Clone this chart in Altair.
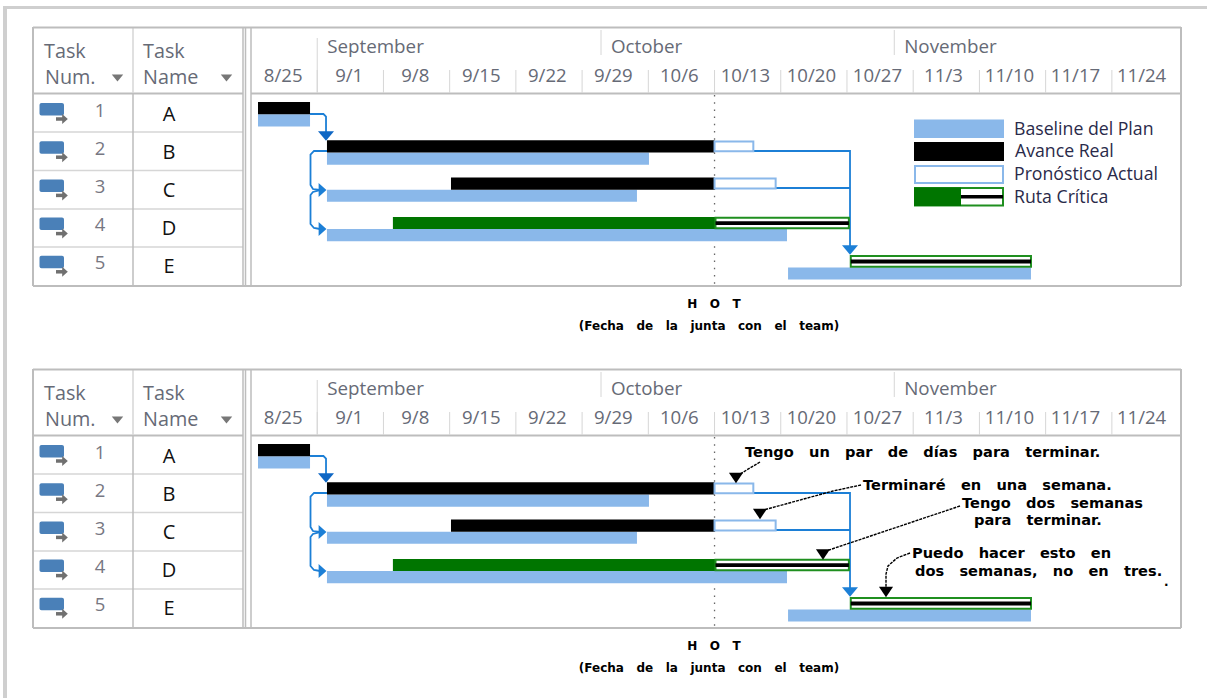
import altair as alt
import pandas as pd

# ---- schedule values, in days counted from the 8/25 column ----
tasks = ["A", "B", "C", "D", "E"]
task_numbers = ["1", "2", "3", "4", "5"]
row_tops = [0.0, 1.0, 1.97, 3.0, 4.0]

baseline_start = [0.74, 8.03, 8.03, 8.03, 56.77]
baseline_end = [6.24, 42.07, 40.8, 56.66, 82.45]

actual_tasks = ["A", "B", "C"]
actual_start = [0.74, 8.03, 21.14]
actual_end = [6.24, 49.0, 49.0]

forecast_tasks = ["B", "C"]
forecast_start = [49.0, 49.0]
forecast_end = [53.1, 55.46]

critical_done_tasks = ["D"]
critical_done_start = [15.0]
critical_done_end = [49.1]

critical_open_tasks = ["D", "E"]
critical_open_start = [49.1, 63.4]
critical_open_end = [63.2, 82.45]

status_day = 49.0

week_labels = ["8/25", "9/1", "9/8", "9/15", "9/22", "9/29", "10/6", "10/13",
               "10/20", "10/27", "11/3", "11/10", "11/17", "11/24"]
month_labels = ["September", "October", "November"]
month_start_days = [7, 37, 68]

# Dependency links as (day, row) paths
links = {
    "a_b": [(6.24, 0.313), (7.66, 0.313), (7.93, 0.379), (7.93, 0.81)],
    "b_c": [(8.03, 1.279), (6.66, 1.279), (6.29, 1.371), (6.29, 2.167), (6.55, 2.272), (7.29, 2.298)],
    "b_d": [(7.29, 2.298), (6.55, 2.35), (6.29, 2.428), (6.29, 3.185), (6.66, 3.29), (7.29, 3.316)],
    "b_e": [(53.1, 1.279), (63.32, 1.279), (63.32, 3.786)],
    "c_e": [(55.46, 2.245), (63.32, 2.245)],
}
link_heads_down = [(7.93, 0.888, "#0F67C4"), (63.32, 3.864, "#1C7FD6")]
link_heads_right = [(7.56, 2.298), (7.56, 3.316)]

legend_labels = ["Baseline del Plan", "Avance Real", "Pronóstico Actual", "Ruta Crítica"]


def spaced(text, gap):
    """Widen the word gaps; consecutive plain spaces would collapse when drawn."""
    return text.replace(" ", "\u00a0" * gap)


notes = [
    ("Tengo un par de días para terminar.", 745, 111),
    ("Terminaré en una semana.", 863, 144),
    ("Tengo dos semanas", 962, 162),
    ("para terminar.", 974, 179),
    ("Puedo hacer esto en", 912, 212),
    ("dos semanas, no en tres.", 915, 230),
]
note_leaders = [
    [(760, 120), (740, 132)],
    [(861, 143), (833, 149), (760, 169)],
    [(960, 164), (823, 210)],
    [(910, 211), (897, 216), (888, 224), (886, 232), (886, 248)],
]
note_heads = [(736, 136), (760, 172), (823, 212.5), (886, 250)]

# ---- drawing constants ----
WIDTH = 1207
BLUE = "#8AB8EA"
GREEN = "#007500"
GREEN_EDGE = "#1F8F1F"
LINK = "#1C7FD6"
LINE = "#BDBDBD"
LIGHT = "#D6D6D6"
HEAD = "#666A76"
FONT = "Open Sans"
PX_PER_DAY = 9.46
ORIGIN_X = 251.0
PX_PER_ROW = 38.3
ORIGIN_Y = 102.0
BAR = 12.2 / PX_PER_ROW

DOWN = "M-1,-0.6L1,-0.6L0,0.6Z"
RIGHT = "M-0.56,-1L0.56,0L-0.56,1Z"
NOTE_HEAD = "M-1,-0.75L1,-0.75L0,0.75Z"


def df_bars(names, start, end, lo, hi):
    return pd.DataFrame({
        "start": start,
        "end": end,
        "top": [row_tops[tasks.index(n)] + lo for n in names],
        "bottom": [row_tops[tasks.index(n)] + hi for n in names],
    })


def panel(height, annotated):
    x_scale = alt.Scale(domain=[-ORIGIN_X / PX_PER_DAY, (WIDTH - ORIGIN_X) / PX_PER_DAY],
                        range=[0, WIDTH], nice=False, zero=False)
    y_scale = alt.Scale(domain=[-ORIGIN_Y / PX_PER_ROW, (height - ORIGIN_Y) / PX_PER_ROW],
                        range=[0, height], nice=False, zero=False)
    X = lambda f: alt.X(f, type="quantitative", scale=x_scale, axis=None)
    Y = lambda f: alt.Y(f, type="quantitative", scale=y_scale, axis=None)
    PX = lambda f: alt.X(f, type="quantitative", scale=None, axis=None)
    PY = lambda f: alt.Y(f, type="quantitative", scale=None, axis=None)

    def segs(rows, color, width=1.5, **kw):
        d = pd.DataFrame(rows, columns=["x", "y", "x2", "y2"])
        return alt.Chart(d).mark_rule(color=color, strokeWidth=width, **kw).encode(
            x=PX("x"), y=PY("y"), x2="x2:Q", y2="y2:Q")

    def rects(rows, fill, **kw):
        d = pd.DataFrame(rows, columns=["x", "y", "x2", "y2"])
        return alt.Chart(d).mark_rect(fill=fill, **kw).encode(
            x=PX("x"), y=PY("y"), x2="x2:Q", y2="y2:Q")

    def texts(rows, size, color, align="left", font=FONT, weight="normal"):
        d = pd.DataFrame(rows, columns=["t", "x", "y"])
        return alt.Chart(d).mark_text(fontSize=size, color=color, align=align, baseline="middle",
                                      font=font, fontWeight=weight).encode(
            x=PX("x"), y=PY("y"), text="t:N")

    def symbols(rows, shape, size, color):
        d = pd.DataFrame(rows, columns=["x", "y"])
        return alt.Chart(d).mark_point(shape=shape, size=size, fill=color, filled=True,
                                       opacity=1, strokeWidth=0).encode(x=X("x"), y=Y("y"))

    layers = []

    # window edge
    layers.append(rects([(3, 0 if annotated else 6, 7, height)], "#CFCFCF"))
    if not annotated:
        layers.append(rects([(3, 6, WIDTH, 9)], "#CFCFCF"))

    # task table frame
    row_lines = [132, 170.5, 209, 247]
    layers.append(segs([(33, y, 243, y, ) for y in row_lines], LIGHT, 1.5))
    layers.append(segs([(251, 93.5, 1181, 93.5), (33, 93.5, 243, 93.5)], LINE, 2))
    layers.append(segs([(133, 27, 133, 93)], LIGHT, 1.5))
    layers.append(segs([(133, 94, 133, 286)], LINE, 1.5))
    layers.append(segs([(243, 27, 243, 286), (245.5, 27, 245.5, 286), (251, 27, 251, 286)], LINE, 1.5))
    layers.append(segs([(33, 27.5, 1181, 27.5), (33, 286, 1181, 286),
                        (33, 27, 33, 286), (1181, 27, 1181, 286)], LINE, 2))

    # time scale header
    weeks = pd.DataFrame({"day": [7 * i + 7 for i in range(13)]})
    layers.append(alt.Chart(weeks).mark_rule(color=LIGHT, strokeWidth=1).encode(
        x=X("day"), y=alt.value(70), y2=alt.value(93)))
    months = pd.DataFrame({"day": month_start_days, "label": month_labels})
    layers.append(alt.Chart(months.iloc[1:]).mark_rule(color=LIGHT, strokeWidth=1).encode(
        x=X("day"), y=alt.value(30), y2=alt.value(55)))
    layers.append(alt.Chart(months.iloc[:1]).mark_rule(color=LIGHT, strokeWidth=1).encode(
        x=X("day"), y=alt.value(38), y2=alt.value(93)))
    layers.append(alt.Chart(months).transform_calculate(at="datum.day + 1.05").mark_text(
        fontSize=18.8, color=HEAD, align="left", baseline="middle", font=FONT).encode(
        x=X("at"), y=alt.value(47), text="label:N"))
    wk = pd.DataFrame({"label": week_labels, "day": [6.98 * i + 3.4 for i in range(14)]})
    layers.append(alt.Chart(wk).mark_text(
        fontSize=18.6, color=HEAD, align="center", baseline="middle", font=FONT).encode(
        x=X("day"), y=alt.value(76), text="label:N"))

    # table header and task rows
    layers.append(texts([("Task", 44, 52), ("Num.", 45, 78), ("Task", 143, 52), ("Name", 143, 78)], 19.8, HEAD))
    layers.append(alt.Chart(pd.DataFrame({"x": [117.5, 226.5], "y": [78, 78]})).mark_point(
        shape=DOWN, size=130, filled=True, fill="#777777", opacity=1, strokeWidth=0).encode(
        x=PX("x"), y=PY("y")))
    row_y = [113, 151.2, 189.4, 227.6, 265.8]
    layers.append(texts([(n, 100, y - 2.5) for n, y in zip(task_numbers, row_y)], 18.5, "#777782", "center"))
    layers.append(texts([(n, 169, y + 1.5) for n, y in zip(tasks, row_y)], 20, "#111111", "center"))

    # task-mode icons
    layers.append(rects([(39.5, y - 10, 64, y + 2.5) for y in row_y], "#4A80B8", cornerRadius=2))
    layers.append(segs([(56, y + 6, 63, y + 6) for y in row_y], "#707070", 3.5))
    icon_heads = pd.DataFrame({"x": [65] * 5, "y": [y + 6 for y in row_y]})
    layers.append(alt.Chart(icon_heads).mark_point(shape=RIGHT, size=100, filled=True, fill="#707070",
                                                   opacity=1, strokeWidth=0).encode(x=PX("x"), y=PY("y")))

    # status date
    layers.append(alt.Chart(pd.DataFrame({"day": [status_day]})).mark_rule(
        color="#666666", strokeWidth=1.3, strokeDash=[1.5, 5.7]).encode(
        x=X("day"), y=alt.value(95), y2=alt.value(285)))

    # dependency links
    rows = []
    for name, path in links.items():
        for i, (d, r) in enumerate(path):
            rows.append({"link": name, "i": i, "day": d, "row": r})
    layers.append(alt.Chart(pd.DataFrame(rows)).mark_line(color=LINK, strokeWidth=1.8).encode(
        x=X("day"), y=Y("row"), detail="link:N", order="i:Q"))

    # bars
    def bar_layer(d, **kw):
        return alt.Chart(d).mark_rect(**kw).encode(
            x=X("start"), x2="end:Q", y=Y("top"), y2="bottom:Q")

    layers.append(bar_layer(df_bars(tasks, baseline_start, baseline_end, BAR, 2 * BAR), fill=BLUE))
    layers.append(bar_layer(df_bars(actual_tasks, actual_start, actual_end, 0, BAR), fill="black"))
    layers.append(bar_layer(df_bars(forecast_tasks, forecast_start, forecast_end, 0.03, BAR - 0.03),
                            fill="white", stroke=BLUE, strokeWidth=2))
    layers.append(bar_layer(df_bars(critical_done_tasks, critical_done_start, critical_done_end, 0, BAR), fill=GREEN))
    layers.append(bar_layer(df_bars(critical_open_tasks, critical_open_start, critical_open_end, 0.02, BAR - 0.02),
                            fill="white", stroke=GREEN_EDGE, strokeWidth=2))
    layers.append(bar_layer(df_bars(critical_open_tasks, critical_open_start, critical_open_end,
                                    BAR / 2 - 0.045, BAR / 2 + 0.055), fill="black"))

    # link arrowheads
    for d, r, c in link_heads_down:
        layers.append(symbols([(d, r)], DOWN, 256, c))
    layers.append(symbols(link_heads_right, RIGHT, 196, LINK))

    # captions under the panel
    layers.append(texts([(spaced("H O T", 3), 714, 304)], 12, "black", "center", "DejaVu Sans", "bold"))
    layers.append(texts([(spaced("(Fecha de la junta con el team)", 3), 709, 326)], 12, "black", "center",
                        "DejaVu Sans", "bold"))

    if annotated:
        layers.append(texts([(spaced(t, 3), a, b) for t, a, b in notes], 14.6, "black", "left",
                            "DejaVu Sans", "bold"))
        layers.append(texts([(".", 1164, 240)], 12, "black", "left", "DejaVu Sans", "bold"))
        rows = []
        for k, path in enumerate(note_leaders):
            for i, (px, py) in enumerate(path):
                rows.append({"k": k, "i": i, "x": px, "y": py})
        layers.append(alt.Chart(pd.DataFrame(rows)).mark_line(
            color="black", strokeWidth=1.4, strokeDash=[3, 1]).encode(
            x=PX("x"), y=PY("y"), detail="k:N", order="i:Q"))
        heads = pd.DataFrame(note_heads, columns=["x", "y"])
        layers.append(alt.Chart(heads).mark_point(shape=NOTE_HEAD, size=200, filled=True, fill="black",
                                                  opacity=1, strokeWidth=0).encode(x=PX("x"), y=PY("y")))
    else:
        layers.append(rects([(914, 119.5, 1004, 138)], BLUE))
        layers.append(rects([(914, 142, 1004, 161)], "black"))
        layers.append(rects([(915, 166, 1003, 183)], "white", stroke=BLUE, strokeWidth=2))
        layers.append(rects([(915, 188, 1003, 205.5)], "white", stroke=GREEN_EDGE, strokeWidth=2))
        layers.append(rects([(914, 187.5, 961, 206)], GREEN))
        layers.append(rects([(961, 195, 1003, 198.5)], "black"))
        ys = [130, 152, 175, 198]
        xs = [1014, 1015, 1014, 1014]
        layers.append(texts([(t, a, b) for t, a, b in zip(legend_labels, xs, ys)], 17.7, "#2A2A4A"))

    return alt.layer(*layers).resolve_scale(x="independent", y="independent").properties(
        width=WIDTH, height=height)


chart = alt.vconcat(panel(342, False), panel(356, True), spacing=0, padding=0,
                    background="white").configure_view(strokeWidth=0)

chart.save("out.html", embed_options={"renderer": "svg", "actions": False})
